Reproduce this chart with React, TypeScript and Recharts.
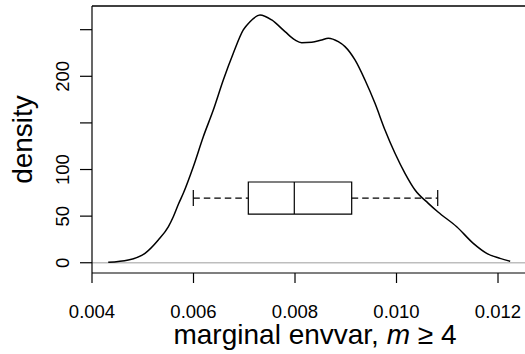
import { LineChart, Line, XAxis, YAxis, ReferenceLine, ReferenceArea } from "recharts";

// kernel density estimate
const densityX = [
  0.00432, 0.004715, 0.005044, 0.005306, 0.005503, 0.005602, 0.0057, 0.005799, 0.005996,
  0.006193, 0.00639, 0.006587, 0.006784, 0.006981, 0.007113, 0.00731, 0.007541, 0.007803,
  0.008, 0.008132, 0.008329, 0.008526, 0.008656, 0.008853, 0.008985, 0.009182, 0.009379,
  0.009576, 0.009773, 0.00997, 0.010167, 0.010365, 0.010627, 0.010818, 0.011186, 0.011513,
  0.011777, 0.012039, 0.01224,
];
const densityY = [
  0.4, 2.9, 10.1, 24.4, 38.6, 49.4, 62.5, 74.5, 103.0,
  135.2, 163.8, 196.0, 224.7, 249.7, 258.6, 265.8, 260.4, 247.9,
  239.0, 236.1, 236.5, 239.0, 240.8, 237.1, 231.8, 217.5, 196.0,
  171.0, 142.4, 117.4, 95.9, 78.0, 63.7, 54.4, 38.6, 20.8,
  10.1, 4.7, 1.6,
];

// lower whisker, Q1, median, Q3, upper whisker
const boxStats = [0.005996, 0.00708, 0.007986, 0.009117, 0.010812];

const xTicks = [0.004, 0.006, 0.008, 0.01, 0.012];
const yTicks = [0, 50, 100, 150, 200, 250];
const yLabeled = [0, 50, 100, 200];

const BOX_AT = 69.4;
const BOX_HALF = 17.2;
const CAP_HALF = 8.6;
const X_DOMAIN: [number, number] = [0.004, 0.012788];
const Y_DOMAIN: [number, number] = [-11, 275.4];

const FONT = "'Liberation Sans', Arial, Helvetica, sans-serif";

const data = densityX.map((x, i) => ({ x, y: densityY[i] }));

const YTick = (props: any) => {
  const { x, y, payload } = props;
  if (!yLabeled.includes(payload.value)) return <g />;
  return (
    <text
      x={x}
      y={y}
      transform={`rotate(-90, ${x}, ${y})`}
      textAnchor="middle"
      fontSize={18.5}
      fontFamily={FONT}
      fill="#000"
    >
      {payload.value}
    </text>
  );
};

const YTitle = (props: any) => {
  const { viewBox } = props;
  const cx = viewBox.x + 32;
  const cy = viewBox.y + viewBox.height / 2;
  return (
    <text
      x={cx}
      y={cy}
      transform={`rotate(-90, ${cx}, ${cy})`}
      textAnchor="middle"
      fontSize={28}
      fontFamily={FONT}
      fill="#000"
    >
      density
    </text>
  );
};

const XTitle = (props: any) => {
  const { viewBox } = props;
  return (
    <text
      x={viewBox.x + viewBox.width / 2}
      y={viewBox.y + 71}
      textAnchor="middle"
      fontSize={28}
      fontFamily={FONT}
      fill="#000"
    >
      marginal envvar,{" "}
      <tspan fontStyle="italic">m</tspan> ≥ 4
    </text>
  );
};

export default function App() {
  const [lo, q1, med, q3, hi] = boxStats;
  return (
    <div style={{ position: "absolute", left: 0, top: 0, width: 525, height: 354, overflow: "hidden", background: "#fff" }}>
      <LineChart width={540} height={354} data={data} margin={{ top: 6, right: 2, bottom: 0, left: 0 }}>
        <XAxis
          type="number"
          dataKey="x"
          domain={X_DOMAIN}
          ticks={xTicks}
          allowDataOverflow
          height={81}
          tickSize={10}
          tickMargin={22}
          tickFormatter={(v: number) => v.toFixed(3)}
          tick={{ fill: "#000", fontSize: 18.5, fontFamily: FONT }}
          stroke="#000"
          strokeWidth={1.2}
          label={<XTitle />}
        />
        <YAxis
          type="number"
          domain={Y_DOMAIN}
          ticks={yTicks}
          allowDataOverflow
          width={92}
          tickSize={12}
          tickMargin={11}
          tick={<YTick />}
          stroke="#000"
          strokeWidth={1.2}
          label={<YTitle />}
        />
        <ReferenceLine y={Y_DOMAIN[1]} stroke="#000" strokeWidth={1.4} />
        <ReferenceLine y={0} stroke="#bebebe" strokeWidth={1.4} />
        <Line
          type="monotone"
          dataKey="y"
          stroke="#000"
          strokeWidth={1.5}
          dot={false}
          isAnimationActive={false}
        />
        <ReferenceLine
          segment={[{ x: lo, y: BOX_AT }, { x: q1, y: BOX_AT }]}
          stroke="#000"
          strokeWidth={1.2}
          strokeDasharray="6.5 4"
        />
        <ReferenceLine
          segment={[{ x: q3, y: BOX_AT }, { x: hi, y: BOX_AT }]}
          stroke="#000"
          strokeWidth={1.2}
          strokeDasharray="6.5 4"
        />
        <ReferenceLine
          segment={[{ x: lo, y: BOX_AT - CAP_HALF }, { x: lo, y: BOX_AT + CAP_HALF }]}
          stroke="#000"
          strokeWidth={1.2}
        />
        <ReferenceLine
          segment={[{ x: hi, y: BOX_AT - CAP_HALF }, { x: hi, y: BOX_AT + CAP_HALF }]}
          stroke="#000"
          strokeWidth={1.2}
        />
        <ReferenceArea
          x1={q1}
          x2={q3}
          y1={BOX_AT - BOX_HALF}
          y2={BOX_AT + BOX_HALF}
          fill="#fff"
          fillOpacity={1}
          stroke="#000"
          strokeWidth={1.2}
        />
        <ReferenceLine
          segment={[{ x: med, y: BOX_AT - BOX_HALF }, { x: med, y: BOX_AT + BOX_HALF }]}
          stroke="#000"
          strokeWidth={1.2}
        />
      </LineChart>
    </div>
  );
}
